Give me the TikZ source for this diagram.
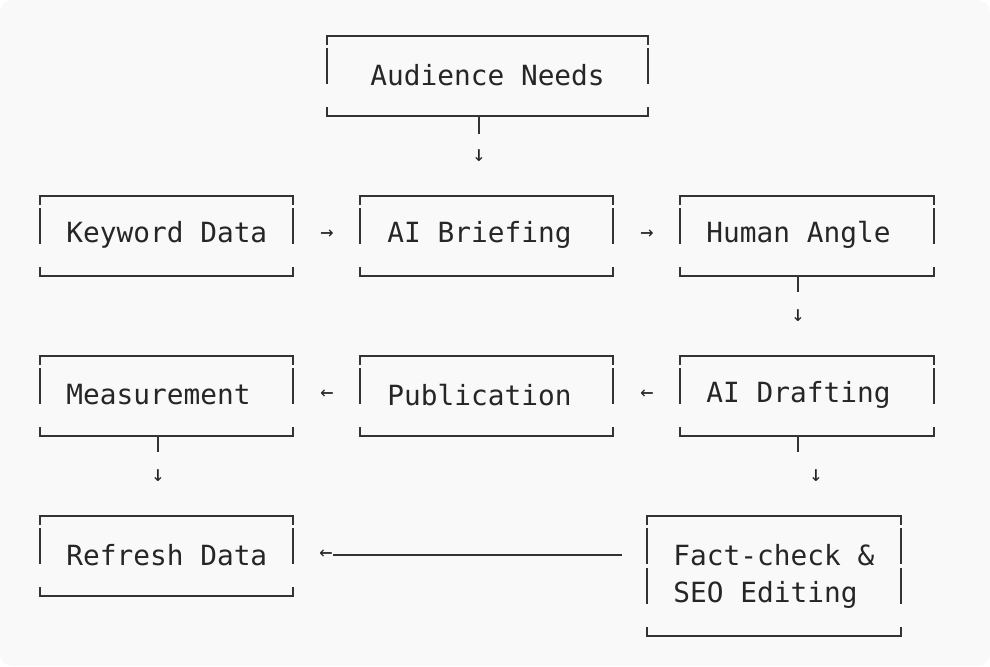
\documentclass[tikz,border=0pt]{standalone}
\usepackage{fontspec}
\setmonofont{DejaVu Sans Mono}
\begin{document}
\begin{tikzpicture}[x=0.5pt,y=-0.5pt,
  bx/.style={minimum width=#1*0.5pt,inner sep=0pt,anchor=north west},
  txt/.style={font=\ttfamily\fontsize{13.9pt}{20pt}\selectfont,anchor=west,inner sep=0pt,text=black!85},
  arr/.style={font=\fontsize{11pt}{12pt}\selectfont\ttfamily,inner sep=0pt,text=black!85},
  edge/.style={line width=1pt,black!80}]
\fill[fill=black!2.5,rounded corners=6pt] (0,0) rectangle (990,666);
\useasboundingbox (0,0) rectangle (990,666);
\newcommand\mybox[6]{% name x1 y1 x2 y2 rows
  \node[draw=none,minimum width={(#4-#2)*0.5pt},minimum height={(#5-#3)*0.5pt},inner sep=0pt,anchor=north west] (#1) at (#2,#3) {};
  \draw[edge] (#2,#3+9) -- (#2,#3) -- (#4,#3) -- (#4,#3+9);
  \draw[edge] (#2,#5-9) -- (#2,#5) -- (#4,#5) -- (#4,#5-9);
  \foreach \k in {1,...,#6}{\draw[edge] (#2,#3+\k*40-28) -- (#2,#3+\k*40+8-20*0);\draw[edge] (#4,#3+\k*40-28) -- (#4,#3+\k*40+8);}
}
\mybox{aud}{327}{36}{648}{116}{1}
\mybox{kw}{40}{196}{293}{276}{1}
\mybox{brief}{360}{196}{613}{276}{1}
\mybox{human}{680}{196}{934}{276}{1}
\mybox{meas}{40}{356}{293}{436}{1}
\mybox{pub}{360}{356}{613}{436}{1}
\mybox{draft}{680}{356}{934}{436}{1}
\mybox{refresh}{40}{516}{293}{596}{1}
\mybox{fact}{647}{516}{901}{636}{2}
\node[txt] (taud) at (370,75) {Audience Needs};
\node[txt] (tkw) at (66,235) {Keyword Data};
\node[txt] (tbrief) at (387,235) {AI Briefing};
\node[txt] (thuman) at (706,235) {Human Angle};
\node[txt] (tmeas) at (66,395) {Measurement};
\node[txt] (tpub) at (387,395) {Publication};
\node[txt] (tdraft) at (706,395) {AI Drafting};
\node[txt] (trefresh) at (66,555) {Refresh Data};
\node[txt] (tfact1) at (673,555) {Fact-check \&};
\node[txt] (tfact2) at (673,595) {SEO Editing};
% connectors
\coordinate (c1) at (479,134);
\draw[edge] (aud.south -| c1) -- (c1);
\node[arr] (a1) at (479,156) {↓};
\node[arr] (a2) at (327,235) {→};
\node[arr] (a3) at (647,235) {→};
\coordinate (c4) at (798,292);
\draw[edge] (human.south -| c4) -- (c4);
\node[arr] (a4) at (798,316) {↓};
\node[arr] (a5) at (647,395) {←};
\node[arr] (a6) at (327,395) {←};
\coordinate (c7) at (798,452);
\draw[edge] (draft.south -| c7) -- (c7);
\node[arr] (a7) at (816,476) {↓};
\coordinate (c8) at (158,452);
\draw[edge] (meas.south -| c8) -- (c8);
\node[arr] (a8) at (158,476) {↓};
\node[arr] (a9) at (326,555) {←};
\coordinate (c9) at (622,555);
\draw[line width=1.2pt,black!80] (a9.east) -- (c9);
\end{tikzpicture}
\end{document}
